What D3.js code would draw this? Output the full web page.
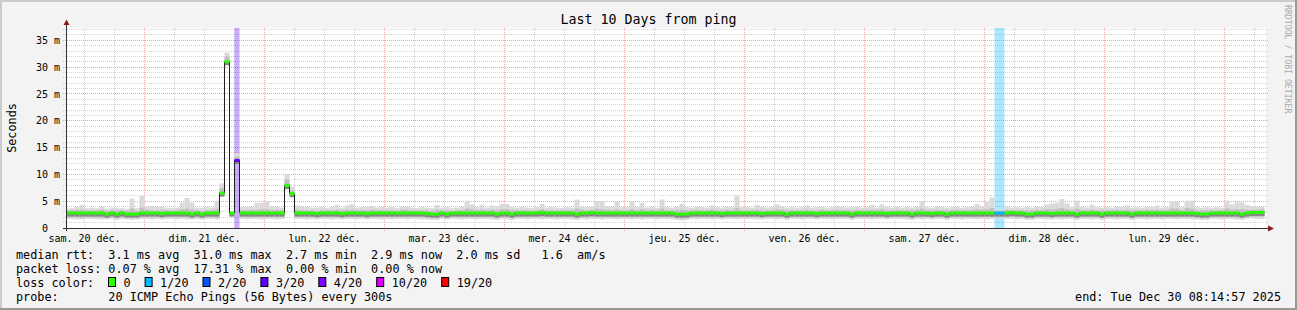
<!DOCTYPE html>
<html>
<head>
<meta charset="utf-8">
<script src="https://cdn.jsdelivr.net/npm/d3@7"></script>
<style>
  body { margin: 0; background: #f3f3f3; }
  text { font-family: "DejaVu Sans Mono", monospace; white-space: pre; }
</style>
</head>
<body>
<svg id="chart" width="1297" height="310"></svg>
<script>
// hourly bins, first bin starts Dec 20 08:00, one row per day
const binStart = new Date(2025, 11, 20, 8);
const endTime = new Date(2025, 11, 30, 8, 14, 57);

// median rtt (ms)
const med = [
  2.8,2.8,2.8,2.8,2.8,2.8,2.8,2.8,2.6,2.8,2.6,2.8,2.6,2.6,2.6,2.8,
  2.8,2.8,2.8,2.7,2.8,2.8,2.8,2.8,2.8,2.6,2.8,2.6,2.8,2.8,2.8,6.5,31.0,2.8,12.6,2.8,2.8,2.8,2.8,2.8,
  2.8,2.8,2.8,2.8,7.9,6.4,2.8,2.8,2.8,2.8,2.7,2.8,2.8,2.8,2.8,2.7,2.8,2.8,2.8,2.8,2.7,2.8,2.8,2.8,
  2.8,2.8,2.8,2.8,2.8,2.8,2.8,2.8,2.7,2.6,2.6,2.8,2.6,2.8,2.8,2.8,2.8,2.8,2.8,2.8,2.8,2.8,2.6,2.8,
  2.8,2.6,2.8,2.8,2.8,2.8,2.8,2.9,2.8,2.8,2.8,2.8,2.8,2.8,2.6,2.8,2.8,2.9,2.8,2.8,2.8,2.8,2.8,2.8,
  2.8,2.8,2.8,2.8,2.8,2.8,2.8,2.8,2.8,2.8,2.6,2.6,2.6,2.8,2.8,2.8,2.8,2.8,2.8,2.7,2.8,2.8,2.8,2.8,
  2.8,2.8,2.8,2.7,2.8,2.8,2.8,2.8,2.6,2.8,2.8,2.8,2.8,2.8,2.7,2.8,2.8,2.8,2.8,2.8,2.8,2.6,2.8,2.8,
  2.8,2.8,2.8,2.8,2.7,2.8,2.8,2.8,2.8,2.6,2.8,2.8,2.8,2.7,2.8,2.8,2.6,2.8,2.8,2.8,2.8,2.8,2.8,2.8,
  2.8,2.8,2.8,2.8,2.8,2.9,2.8,2.8,2.6,2.6,2.8,2.8,2.8,2.7,2.8,2.8,2.8,2.8,2.6,2.8,2.8,2.8,2.8,2.6,
  2.8,2.8,2.8,2.8,2.8,2.6,2.8,2.8,2.8,2.8,2.8,2.8,2.8,2.8,2.8,2.8,2.8,2.8,2.7,2.6,2.6,2.8,2.8,2.8,
  2.8,2.8,2.8,2.6,2.8,2.9,2.9,2.9
];

// smoke: highest ping
const hi = [
  3.6,3.7,3.9,4.3,3.7,3.8,3.7,4.1,3.6,3.8,3.8,3.7,3.6,5.5,3.7,6.0,
  4.1,4.1,4.0,4.1,3.8,3.7,3.8,4.7,5.6,4.7,3.8,3.8,4.0,3.8,5.1,8.3,32.7,3.1,14.0,3.9,4.0,4.0,4.7,4.7,
  4.9,4.0,4.0,3.8,10.1,7.7,4.2,4.0,4.0,3.8,3.8,3.9,3.7,3.9,4.3,3.8,4.2,4.4,3.8,3.9,4.0,4.1,3.8,3.9,
  3.8,3.9,3.7,4.0,4.0,3.8,3.7,3.9,3.8,3.7,4.3,3.8,3.9,3.7,3.8,4.0,5.1,4.4,3.9,4.3,3.8,4.2,4.0,4.5,
  4.5,3.9,3.8,3.9,3.8,3.7,3.9,4.5,3.8,3.9,3.8,3.7,3.9,3.8,5.3,4.0,3.9,4.0,5.0,5.0,4.1,4.0,4.9,3.9,
  3.9,5.0,3.9,4.7,3.8,4.0,3.8,5.3,3.9,3.8,4.0,4.5,3.9,3.8,4.0,3.9,3.8,4.2,3.9,3.8,4.0,3.9,6.0,3.9,
  3.9,3.8,4.3,3.9,3.8,3.9,4.4,4.1,3.8,3.9,3.8,3.9,4.2,3.8,3.9,4.0,3.8,3.9,4.1,3.9,3.8,3.9,4.0,3.8,
  3.9,4.3,3.8,4.4,3.9,3.8,4.0,3.8,3.9,3.8,4.0,5.0,3.9,3.8,4.1,3.9,3.8,3.9,4.0,3.8,3.9,4.0,4.5,4.1,
  4.8,5.7,3.4,3.4,4.0,3.8,3.9,3.8,3.9,3.8,4.0,3.9,4.4,4.6,4.7,5.4,4.6,3.9,5.1,3.9,3.8,4.3,3.9,3.8,
  3.9,3.8,4.0,3.9,4.2,3.8,3.9,3.8,4.0,3.9,4.2,3.8,3.9,4.9,4.9,3.9,5.1,5.1,3.9,3.8,3.9,3.8,3.9,3.8,
  5.1,4.4,4.8,4.8,4.3,4.1,4.0,4.0
];

// smoke: upper edge of the dense part
const up = [
  3.3,3.3,3.4,3.4,3.3,3.3,3.3,3.4,3.2,3.3,3.3,3.3,3.2,3.6,3.2,3.8,
  3.4,3.3,3.3,3.4,3.3,3.2,3.3,3.5,3.6,3.4,3.3,3.2,3.3,3.3,3.5,7.4,32.0,2.9,13.3,3.3,3.3,3.4,3.4,3.5,
  3.5,3.3,3.4,3.3,9.0,7.0,3.4,3.3,3.3,3.3,3.2,3.3,3.3,3.3,3.4,3.3,3.4,3.4,3.3,3.3,3.3,3.4,3.3,3.3,
  3.3,3.3,3.2,3.4,3.4,3.3,3.3,3.3,3.3,3.2,3.4,3.3,3.3,3.2,3.3,3.3,3.6,3.5,3.3,3.4,3.3,3.4,3.3,3.5,
  3.5,3.3,3.3,3.3,3.3,3.2,3.3,3.5,3.3,3.3,3.3,3.3,3.3,3.3,3.6,3.4,3.3,3.4,3.6,3.5,3.4,3.3,3.5,3.3,
  3.3,3.5,3.3,3.5,3.3,3.4,3.3,3.6,3.3,3.3,3.3,3.4,3.3,3.3,3.4,3.3,3.3,3.4,3.3,3.3,3.4,3.3,3.7,3.3,
  3.3,3.3,3.4,3.3,3.3,3.3,3.5,3.4,3.3,3.3,3.3,3.3,3.4,3.3,3.3,3.4,3.3,3.3,3.4,3.3,3.3,3.3,3.4,3.3,
  3.3,3.4,3.3,3.5,3.3,3.3,3.4,3.3,3.3,3.3,3.4,3.6,3.3,3.3,3.4,3.3,3.3,3.3,3.4,3.3,3.3,3.4,3.5,3.4,
  3.5,3.7,3.2,3.2,3.4,3.3,3.3,3.3,3.3,3.3,3.4,3.3,3.5,3.5,3.6,3.7,3.5,3.3,3.6,3.3,3.3,3.4,3.3,3.3,
  3.3,3.3,3.4,3.3,3.4,3.3,3.3,3.3,3.4,3.3,3.4,3.3,3.3,3.6,3.6,3.3,3.7,3.6,3.3,3.3,3.3,3.3,3.3,3.3,
  3.6,3.4,3.5,3.5,3.4,3.4,3.4,3.5
];

// smoke: lower edge of the dense part
const dn = [
  2.0,2.0,2.0,1.9,2.0,2.0,2.0,1.9,1.9,2.0,1.9,2.0,1.9,1.9,1.9,2.0,
  2.0,2.0,2.0,1.9,2.0,2.0,2.0,2.0,2.0,1.9,2.0,1.9,2.0,2.0,1.9,6.2,30.6,2.3,12.2,2.0,2.0,2.0,2.0,2.0,
  2.0,2.0,2.0,2.0,7.6,6.1,2.0,2.0,2.0,2.0,1.9,2.0,2.0,2.0,2.0,1.9,2.0,2.0,2.0,2.0,1.9,2.0,2.0,2.0,
  2.0,2.0,2.0,2.0,2.0,2.0,2.0,2.0,1.9,1.9,1.8,2.0,1.9,2.0,2.0,2.0,2.0,2.0,2.0,2.0,2.0,2.0,1.9,2.0,
  2.0,1.9,2.0,2.0,2.0,2.0,2.0,2.0,2.0,2.0,2.0,2.0,2.0,2.0,1.9,2.0,2.0,2.0,2.0,2.0,2.0,2.0,2.0,2.0,
  2.0,2.0,2.0,2.0,2.0,2.0,2.0,2.0,2.0,2.0,1.9,1.8,1.9,2.0,2.0,2.0,2.0,2.0,2.0,1.9,2.0,2.0,2.0,2.0,
  2.0,2.0,2.0,1.9,2.0,2.0,2.0,2.0,1.9,2.0,2.0,2.0,2.0,2.0,1.9,2.0,2.0,2.0,2.0,2.0,2.0,1.9,2.0,2.0,
  2.0,2.0,2.0,2.0,1.9,2.0,2.0,2.0,2.0,1.9,2.0,2.0,2.0,1.9,2.0,2.0,1.9,2.0,2.0,2.0,2.0,2.0,2.0,2.0,
  2.0,2.0,2.0,2.0,2.0,2.0,2.0,2.0,1.9,1.9,2.0,2.0,2.0,1.9,2.0,2.0,2.0,2.0,1.9,2.0,2.0,2.0,2.0,1.9,
  2.0,2.0,2.0,2.0,2.0,1.9,2.0,2.0,2.0,2.0,2.0,2.0,2.0,2.0,2.0,2.0,2.0,2.0,1.9,1.9,1.9,2.0,2.0,2.0,
  2.0,2.0,2.0,1.9,2.0,2.1,2.1,2.1
];

// smoke: lowest ping
const lo = [
  1.7,1.7,1.6,1.6,1.7,1.7,1.6,1.6,1.6,1.7,1.5,1.7,1.6,1.5,1.6,1.7,
  1.7,1.6,1.7,1.6,1.7,1.7,1.6,1.7,1.6,1.6,1.7,1.6,1.7,1.7,1.6,6.1,30.4,2.0,12.1,1.7,1.6,1.7,1.7,1.6,
  1.7,1.7,1.6,1.7,7.5,6.0,1.7,1.7,1.6,1.7,1.6,1.7,1.7,1.6,1.7,1.6,1.7,1.7,1.6,1.7,1.6,1.7,1.7,1.6,
  1.7,1.6,1.7,1.7,1.6,1.7,1.7,1.6,1.6,1.5,1.5,1.7,1.6,1.7,1.7,1.6,1.7,1.7,1.6,1.7,1.7,1.6,1.5,1.7,
  1.6,1.5,1.7,1.7,1.6,1.7,1.7,1.6,1.7,1.7,1.6,1.7,1.7,1.6,1.5,1.7,1.6,1.7,1.7,1.6,1.7,1.7,1.6,1.7,
  1.7,1.6,1.7,1.6,1.7,1.7,1.6,1.7,1.7,1.6,1.5,1.4,1.5,1.7,1.6,1.7,1.7,1.6,1.7,1.6,1.7,1.7,1.6,1.7,
  1.7,1.7,1.6,1.6,1.7,1.7,1.6,1.7,1.5,1.7,1.7,1.6,1.7,1.7,1.6,1.7,1.7,1.6,1.7,1.7,1.7,1.5,1.7,1.7,
  1.7,1.6,1.7,1.7,1.6,1.7,1.7,1.7,1.6,1.5,1.7,1.6,1.7,1.6,1.7,1.7,1.5,1.7,1.7,1.6,1.7,1.7,1.6,1.7,
  1.6,1.7,1.8,1.8,1.7,1.7,1.6,1.7,1.5,1.5,1.7,1.7,1.6,1.6,1.7,1.6,1.7,1.7,1.5,1.7,1.7,1.6,1.7,1.5,
  1.7,1.7,1.6,1.7,1.7,1.5,1.7,1.7,1.6,1.7,1.7,1.6,1.7,1.7,1.6,1.7,1.7,1.6,1.6,1.5,1.5,1.7,1.7,1.6,
  1.7,1.7,1.6,1.5,1.7,1.8,1.7,1.7
];

// hours with packet loss, and lost pings out of 20
const lossTimes = ["2025-12-21T18:00", "2025-12-28T02:00", "2025-12-28T03:00"];
const lossPings = [3.46, 1, 1];

// loss colour legend
const lossLabels = ["0", "1/20", "2/20", "3/20", "4/20", "10/20", "19/20"];
const lossLevels = [0, 1, 2, 3, 4, 10, 19];
const lossColors = ["#26ff00", "#00b8ff", "#0059ff", "#5e00ff", "#7e00ff", "#dd00ff", "#ff0000"];

const dayLabels = ["sam. 20 déc.", "dim. 21 déc.", "lun. 22 déc.", "mar. 23 déc.", "mer. 24 déc.",
                   "jeu. 25 déc.", "ven. 26 déc.", "sam. 27 déc.", "dim. 28 déc.", "lun. 29 déc."];
const yTicks = [0, 5, 10, 15, 20, 25, 30, 35];

const svg = d3.select("#chart");
const W = 1297, H = 310;
const plotL = 65.75, plotR = 1265.75, plotT = 28, plotB = 228;

const x = d3.scaleTime()
  .domain([new Date(2025, 11, 20, 8, 14, 57), endTime])
  .range([plotL, plotR]);
const y = d3.scaleLinear().domain([0, 37.3]).range([plotB, plotT]);

const bins = med.map((m, i) => ({
  t0: d3.timeHour.offset(binStart, i),
  t1: d3.timeHour.offset(binStart, i + 1),
  med: m, hi: hi[i], up: up[i], dn: dn[i], lo: lo[i], loss: 0
}));
const parseHour = d3.timeParse("%Y-%m-%dT%H:%M");
lossTimes.forEach((s, k) => {
  const t = parseHour(s);
  const b = bins.find(d => +d.t0 === +t);
  if (b) b.loss = lossPings[k];
});
function lossColor(n) {
  let c = lossColors[0];
  lossLevels.forEach((l, k) => { if (n >= l && l > 0) c = lossColors[k]; });
  return c;
}

// background + frame
svg.append("rect").attr("width", W).attr("height", H).attr("fill", "#f3f3f3");
svg.append("rect").attr("x", 0).attr("y", 0).attr("width", W).attr("height", 2).attr("fill", "#cbcbcb");
svg.append("rect").attr("x", 0).attr("y", 0).attr("width", 2).attr("height", H).attr("fill", "#cbcbcb");
svg.append("rect").attr("x", 0).attr("y", H - 2).attr("width", W).attr("height", 2).attr("fill", "#999999");
svg.append("rect").attr("x", W - 2).attr("y", 0).attr("width", 2).attr("height", H).attr("fill", "#999999");

svg.append("rect").attr("x", 66).attr("y", plotT).attr("width", 1200).attr("height", plotB - plotT)
  .attr("fill", "#ffffff");

svg.append("defs").append("clipPath").attr("id", "plot")
  .append("rect").attr("x", 66).attr("y", plotT).attr("width", plotR - 66).attr("height", plotB - plotT);

// grid
const grid = svg.append("g");
const px = v => Math.floor(v) + 0.5;
d3.range(1, 38).filter(v => v % 5 !== 0).forEach(v => {
  grid.append("line").attr("x1", 63).attr("x2", 1269).attr("y1", px(y(v))).attr("y2", px(y(v)))
    .attr("stroke", "#d2d2d2").attr("stroke-dasharray", "1,1");
});
d3.timeHour.every(6).range(x.domain()[0], endTime).filter(t => t.getHours() !== 0).forEach(t => {
  grid.append("line").attr("x1", px(x(t))).attr("x2", px(x(t))).attr("y1", plotT).attr("y2", plotB + 2)
    .attr("stroke", "#d2d2d2").attr("stroke-dasharray", "1,1");
});
yTicks.filter(v => v > 0).forEach(v => {
  grid.append("line").attr("x1", 63).attr("x2", 1269).attr("y1", px(y(v))).attr("y2", px(y(v)))
    .attr("stroke", "#ff9c9c").attr("stroke-dasharray", "1,1");
});
d3.timeDay.range(x.domain()[0], endTime).forEach(t => {
  grid.append("line").attr("x1", px(x(t))).attr("x2", px(x(t))).attr("y1", plotT).attr("y2", plotB + 3)
    .attr("stroke", "#ff9c9c").attr("stroke-dasharray", "1,1");
});

const plot = svg.append("g").attr("clip-path", "url(#plot)");

// loss background bands
plot.selectAll(".lossband").data(bins.filter(d => d.loss > 0)).enter().append("rect")
  .attr("x", d => x(d.t0)).attr("width", d => x(d.t1) - x(d.t0))
  .attr("y", plotT).attr("height", plotB - plotT)
  .attr("fill", d => lossColor(d.loss)).attr("fill-opacity", 0.33);

// smoke
plot.selectAll(".smoke1").data(bins).enter().append("rect")
  .attr("x", d => x(d.t0)).attr("width", d => x(d.t1) - x(d.t0))
  .attr("y", d => y(d.hi)).attr("height", d => y(d.lo) - y(d.hi))
  .attr("fill", "#dadada");
plot.selectAll(".smoke2").data(bins).enter().append("rect")
  .attr("x", d => x(d.t0)).attr("width", d => x(d.t1) - x(d.t0))
  .attr("y", d => y(d.up)).attr("height", d => y(d.dn) - y(d.up))
  .attr("fill", "#bebebe");
plot.selectAll(".smoke3").data(bins).enter().append("rect")
  .attr("x", d => x(d.t0)).attr("width", d => x(d.t1) - x(d.t0))
  .attr("y", d => y(d.med)).attr("height", 3.5)
  .attr("fill", "#858585");

// median step line
const stepPts = bins.map(d => [x(d.t0), y(d.med)]);
stepPts.push([x(bins[bins.length - 1].t1), y(bins[bins.length - 1].med)]);
plot.append("path")
  .attr("d", d3.line().curve(d3.curveStepAfter)(stepPts))
  .attr("fill", "none").attr("stroke", "#202020").attr("stroke-width", 1);

// median coloured by loss
plot.selectAll(".medbar").data(bins).enter().append("rect")
  .attr("x", d => x(d.t0)).attr("width", d => x(d.t1) - x(d.t0))
  .attr("y", d => y(d.med) - 1.5).attr("height", 3)
  .attr("fill", d => lossColor(d.loss));

// axes
const axisColor = "#333333";
svg.append("line").attr("x1", 63).attr("x2", 1269).attr("y1", 228.5).attr("y2", 228.5)
  .attr("stroke", axisColor);
svg.append("line").attr("x1", 66.5).attr("x2", 66.5).attr("y1", 231).attr("y2", 24)
  .attr("stroke", axisColor);
svg.append("path").attr("d", "M1268,225.5 L1274,228.5 L1268,231.5 Z").attr("fill", "#8b1a1a");
svg.append("path").attr("d", "M63.5,25 L66.5,19.5 L69.5,25 Z").attr("fill", "#8b1a1a");

svg.selectAll(".ylab").data(yTicks).enter().append("text")
  .attr("x", 60).attr("y", d => y(d) + 3.6)
  .attr("text-anchor", "end").attr("font-size", "10px").attr("fill", "#000")
  .text(d => d === 0 ? "0  " : d + " m");

svg.selectAll(".xlab").data(dayLabels).enter().append("text")
  .attr("x", (d, i) => x(new Date(2025, 11, 20 + i, 12)))
  .attr("y", 241.5)
  .attr("text-anchor", "middle").attr("font-size", "10px").attr("fill", "#000")
  .text(d => d);

// titles
svg.append("text").attr("x", 648.5).attr("y", 23.5).attr("text-anchor", "middle")
  .attr("font-size", "13.3px").attr("fill", "#000").text("Last 10 Days from ping");
svg.append("text").attr("transform", "translate(15.5,128) rotate(-90)")
  .attr("text-anchor", "middle").attr("font-size", "11.8px").attr("fill", "#000").text("Seconds");
svg.append("text").attr("transform", "translate(1285,5) rotate(90)")
  .attr("font-size", "8.2px").attr("fill", "#aaaaaa").text("RRDTOOL / TOBI OETIKER");

// legend
const charW = 7.1, lx = 16;
const legendLines = [
  "median rtt:  3.1 ms avg  31.0 ms max  2.7 ms min  2.9 ms now  2.0 ms sd   1.6  am/s",
  "packet loss: 0.07 % avg  17.31 % max  0.00 % min  0.00 % now",
  "loss color:",
  "probe:       20 ICMP Echo Pings (56 Bytes) every 300s"
];
legendLines.forEach((s, k) => {
  svg.append("text").attr("x", lx).attr("y", 258.5 + 14 * k)
    .attr("font-size", "11.8px").attr("fill", "#000").text(s);
});
let bx = 108.5;
lossLabels.forEach((lab, k) => {
  svg.append("rect").attr("x", bx).attr("y", 277.5).attr("width", 7).attr("height", 9)
    .attr("fill", lossColors[k]).attr("stroke", "#000").attr("stroke-width", 1);
  svg.append("text").attr("x", bx + 15).attr("y", 286.5)
    .attr("font-size", "11.8px").attr("fill", "#000").text(lab);
  bx = bx + 15 + lab.length * charW + 14.5;
});
svg.append("text").attr("x", 1281).attr("y", 300.5).attr("text-anchor", "end")
  .attr("font-size", "11.8px").attr("fill", "#000").text("end: Tue Dec 30 08:14:57 2025");
</script>
</body>
</html>
